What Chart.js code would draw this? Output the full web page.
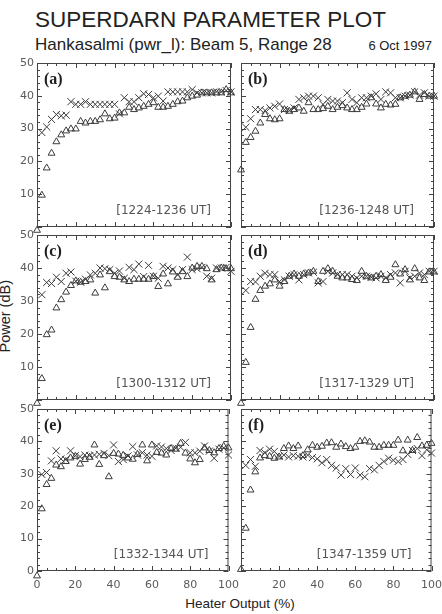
<!DOCTYPE html>
<html lang="en">
<head>
<meta charset="UTF-8" />
<title>SuperDARN Parameter Plot</title>
<script src="https://cdn.jsdelivr.net/npm/chart.js"></script>
<style>
  body {
    margin: 0;
    background: #fff;
    width: 442px;
    height: 614px;
    position: relative;
    overflow: hidden;
    font-family: 'Liberation Sans', Arial, sans-serif;
    color: #222;
  }
  .txt { position: absolute; white-space: nowrap; line-height: 1; }
  .title { left: 35px; top: 9px; font-size: 22.5px; }
  .sub { left: 35px; top: 36px; font-size: 17px; }
  .date { right: 10px; top: 39px; font-size: 13px; }
  .ylab { left: -35px; top: 309px; width: 80px; text-align: center; font-size: 14.5px; transform: rotate(-90deg); }
  .xlab { left: 140px; top: 597px; width: 200px; text-align: center; font-size: 13.5px; }
  canvas { position: absolute; }
</style>
</head>
<body>
  <div class="txt title">SUPERDARN PARAMETER PLOT</div>
  <div class="txt sub">Hankasalmi (pwr_l): Beam 5, Range 28</div>
  <div class="txt date">6 Oct 1997</div>
  <div class="txt ylab">Power (dB)</div>
  <div class="txt xlab">Heater Output (%)</div>

<script>
// heater output steps (%)
const heater = [0, 2.5, 5, 7.5, 10, 12.5, 15, 17.5, 20, 22.5, 25, 27.5, 30, 32.5, 35, 37.5, 40, 42.5, 45, 47.5, 50,
  52.5, 55, 57.5, 60, 62.5, 65, 67.5, 70, 72.5, 75, 77.5, 80, 82.5, 85, 87.5, 90, 92.5, 95, 97.5, 100];

const xTicks = [0, 20, 40, 60, 80, 100];
const yTicks = [0, 10, 20, 30, 40, 50];

// power (dB), x-marker series and triangle series per interval
const crossesA = [null, 28.8, 30.5, 32.8, 34.3, 33.9, 34.1, 38.2, 37.4, 37.4, 38.2, 37.4, 37.4, 37.4, 37.4, 37.4, 37.4, 34.5, 39.4, 38.2, 38.2,
  39.4, 40.6, 40.4, 39.4, 39.9, 38.4, 41.2, 41.2, 41.2, 41.2, 41.2, 41.9, 40.9, 40.9, 40.9, 40.9, 41.2, 41.2, 41.6, 41.2];
const trianglesA = [-1, 9.7, 18.0, 22.5, 26.0, 28.1, 29.3, 29.9, 29.9, 32.2, 31.7, 32.2, 32.2, 32.7, 34.5, 33.0, 33.2, 34.8, 34.8, 36.5, 35.8,
  36.3, 36.8, 37.4, 37.9, 36.5, 36.5, 36.8, 37.4, 38.2, 38.4, 39.4, 39.9, 40.2, 40.9, 40.9, 40.9, 40.9, 40.9, 41.9, 40.9];

const crossesB = [null, 30.4, 33.0, 35.8, 35.8, 35.5, 36.3, 36.8, 37.5, 35.8, 35.5, 36.3, 38.9, 39.4, 39.9, 39.9, 39.4, 37.4, 38.9, 38.4, 38.4,
  37.9, 40.9, 38.9, 37.9, 39.4, 39.4, 39.9, 40.6, 38.9, 41.2, 40.9, 39.4, 39.4, 39.9, 40.2, 41.2, 40.2, 40.9, 39.9, 39.9];
const trianglesB = [17.4, 25.8, 27.3, 29.2, 31.7, 34.3, 33.0, 32.7, 33.0, 35.8, 35.3, 35.8, 36.3, 35.3, 37.9, 35.8, 35.8, 36.1, 36.8, 35.8, 36.5,
  37.0, 36.3, 35.8, 35.8, 36.5, 37.5, 39.4, 37.5, 36.3, 37.4, 37.2, 37.4, 39.4, 39.9, 40.2, 41.2, 38.9, 40.4, 39.9, 39.9];

const crossesC = [null, 31.9, 35.6, 35.3, 37.2, 35.9, 38.4, 38.8, 36.0, 35.7, 36.6, 37.9, 38.4, 40.0, 39.8, 39.5, 38.4, 39.1, 36.9, 40.2, 39.5,
  41.2, 37.4, 40.8, 37.5, 36.9, 40.5, 40.0, 39.5, 37.9, 39.5, 43.3, 39.5, 39.8, 40.2, 37.5, 36.9, 40.0, 40.0, 40.2, 39.0];
const trianglesC = [-1, 6.5, 19.8, 21.2, 27.9, 30.4, 32.7, 34.7, 36.1, 35.7, 35.9, 36.4, 32.4, 37.9, 34.0, 38.9, 37.4, 37.2, 36.4, 35.9, 36.6,
  36.6, 36.6, 36.6, 37.4, 34.4, 38.2, 35.2, 38.8, 37.2, 38.9, 37.4, 40.0, 40.5, 40.5, 39.8, 36.4, 39.5, 40.0, 39.8, 39.8];

const crossesD = [null, 33.2, 35.9, 35.8, 37.5, 38.4, 38.0, 38.0, 35.9, 36.4, 37.5, 38.0, 36.4, 38.0, 38.5, 38.7, 35.5, 35.9, 39.0, 38.5, 38.0,
  38.0, 38.0, 37.5, 37.0, 37.5, 37.5, 37.2, 37.0, 37.5, 37.0, 38.0, 38.5, 35.5, 39.0, 37.0, 37.5, 38.5, 38.0, 39.0, 39.0];
const trianglesD = [-1, 11.4, 22.0, 30.5, 33.2, 34.5, 35.2, 36.4, 34.5, 35.9, 37.5, 38.2, 37.5, 38.2, 38.5, 39.0, 35.9, 39.0, 39.8, 39.0, 37.5,
  37.0, 37.0, 36.5, 36.2, 39.0, 37.5, 37.0, 37.5, 38.0, 36.2, 37.2, 41.0, 38.2, 39.5, 36.4, 39.8, 37.0, 36.2, 38.8, 38.8];

const crossesE = [null, 29.8, 30.4, 34.0, 37.1, 34.6, 34.4, 37.1, 35.6, 35.3, 35.8, 35.6, 35.8, 36.0, 36.3, 35.6, 38.9, 33.8, 34.4, 35.5, 38.4,
  35.8, 36.5, 35.8, 35.4, 38.6, 38.3, 37.8, 37.2, 37.9, 38.2, 39.7, 36.5, 36.5, 37.0, 38.6, 37.0, 34.8, 37.6, 38.0, 35.8];
const trianglesE = [-1.5, 19.2, 26.7, 28.6, 32.7, 32.2, 33.8, 34.9, 35.4, 33.0, 34.4, 35.1, 38.9, 32.9, 35.6, 29.1, 36.3, 36.1, 35.7, 34.9, 34.5,
  36.0, 38.9, 34.0, 38.9, 36.6, 36.4, 35.8, 37.8, 37.6, 39.4, 36.4, 34.6, 33.4, 34.4, 38.0, 37.2, 36.5, 37.8, 38.5, 38.0];

const crossesF = [null, 32.6, 34.4, 32.3, 37.2, 36.5, 37.6, 36.9, 35.4, 35.8, 35.2, 35.6, 35.4, 35.2, 35.8, 35.0, 34.6, 33.4, 34.4, 32.6, 31.8,
  29.6, 31.6, 29.8, 31.8, 29.6, 29.1, 31.6, 31.2, 32.6, 33.8, 34.8, 34.2, 33.8, 34.4, 36.0, 37.2, 37.8, 35.6, 37.4, 36.4];
const trianglesF = [0.5, 13.2, 25.0, 30.6, 34.9, 35.6, 35.4, 34.8, 35.2, 37.8, 38.6, 37.8, 38.6, 35.6, 37.4, 38.8, 38.2, 38.5, 39.5, 39.6, 38.2,
  39.2, 38.4, 37.8, 38.2, 40.0, 40.2, 39.8, 38.2, 38.2, 38.8, 38.8, 38.8, 40.4, 37.1, 40.4, 37.2, 41.2, 38.6, 38.8, 39.4];

const panels = [
  { label: '(a)', time: '[1224-1236 UT]', crosses: crossesA, triangles: trianglesA, col: 0, row: 0 },
  { label: '(b)', time: '[1236-1248 UT]', crosses: crossesB, triangles: trianglesB, col: 1, row: 0 },
  { label: '(c)', time: '[1300-1312 UT]', crosses: crossesC, triangles: trianglesC, col: 0, row: 1 },
  { label: '(d)', time: '[1317-1329 UT]', crosses: crossesD, triangles: trianglesD, col: 1, row: 1 },
  { label: '(e)', time: '[1332-1344 UT]', crosses: crossesE, triangles: trianglesE, col: 0, row: 2 },
  { label: '(f)', time: '[1347-1359 UT]', crosses: crossesF, triangles: trianglesF, col: 1, row: 2 }
];

// plot box edges on the page
const cols = [{ l: 37, r: 231 }, { l: 241, r: 434 }];
const rows = [{ t: 63, b: 227 }, { t: 235, b: 400 }, { t: 409, b: 571 }];
const PAD_L = 40, PAD_T = 10, PAD_R = 16, PAD_B = 30;

const ink = '#3c3c3c';

// IDL-style box with inward ticks, panel letter and time range
const framePlugin = {
  id: 'frame',
  afterDraw(chart, args, opts) {
    const { ctx, chartArea: a, scales: { x, y } } = chart;
    ctx.save();
    ctx.strokeStyle = '#444';
    ctx.lineWidth = 1;
    ctx.strokeRect(a.left + 0.5, a.top + 0.5, a.right - a.left - 1, a.bottom - a.top - 1);
    ctx.beginPath();
    for (let v = 0; v <= 100; v += 5) {
      const px = Math.round(x.getPixelForValue(v)) + 0.5;
      const len = v % 20 === 0 ? 5 : 3;
      ctx.moveTo(px, a.bottom); ctx.lineTo(px, a.bottom - len);
      ctx.moveTo(px, a.top); ctx.lineTo(px, a.top + len);
    }
    for (let v = 0; v <= 50; v += 2) {
      const py = Math.round(y.getPixelForValue(v)) + 0.5;
      const len = v % 10 === 0 ? 5 : 3;
      ctx.moveTo(a.left, py); ctx.lineTo(a.left + len, py);
      ctx.moveTo(a.right, py); ctx.lineTo(a.right - len, py);
    }
    ctx.stroke();

    ctx.fillStyle = '#1e1e1e';
    ctx.font = 'bold 16px "Liberation Serif", "DejaVu Serif", serif';
    ctx.textAlign = 'left';
    ctx.textBaseline = 'alphabetic';
    ctx.fillText(opts.label, a.left + 7, a.top + 21);

    ctx.fillStyle = '#555';
    ctx.font = '12px "DejaVu Sans", sans-serif';
    ctx.textAlign = 'right';
    ctx.fillText(opts.time, a.right - 20, a.bottom - 13);
    ctx.restore();
  }
};

panels.forEach(p => {
  const c = cols[p.col], r = rows[p.row];
  const canvas = document.createElement('canvas');
  canvas.width = (c.r - c.l) + PAD_L + PAD_R;
  canvas.height = (r.b - r.t) + PAD_T + PAD_B;
  canvas.style.left = (c.l - PAD_L) + 'px';
  canvas.style.top = (r.t - PAD_T) + 'px';
  document.body.appendChild(canvas);

  const showY = p.col === 0;
  const showX = p.row === 2;

  new Chart(canvas, {
    type: 'scatter',
    data: {
      datasets: [
        {
          data: heater.map((h, i) => ({ x: h, y: p.triangles[i] })),
          pointStyle: 'triangle',
          pointRadius: 4,
          pointBorderWidth: 1,
          borderColor: ink,
          backgroundColor: 'rgba(0,0,0,0)',
          clip: false
        },
        {
          data: heater.map((h, i) => ({ x: h, y: p.crosses[i] })),
          pointStyle: 'crossRot',
          pointRadius: 5,
          pointBorderWidth: 1,
          borderColor: ink,
          backgroundColor: ink,
          clip: false
        }
      ]
    },
    options: {
      responsive: false,
      animation: false,
      events: [],
      layout: { autoPadding: false, padding: { left: 0, top: PAD_T, right: PAD_R, bottom: 0 } },
      plugins: {
        legend: { display: false },
        tooltip: { enabled: false },
        frame: { label: p.label, time: p.time }
      },
      scales: {
        x: {
          type: 'linear', min: 0, max: 100,
          grid: { display: false, drawTicks: false },
          border: { display: false },
          afterBuildTicks: s => { s.ticks = xTicks.map(v => ({ value: v })); },
          afterFit: s => { s.height = PAD_B; },
          ticks: {
            display: showX,
            padding: 8,
            color: '#5a5a5a',
            font: { family: 'DejaVu Sans', size: 11 },
            callback: v => (p.col === 1 && v === 0) ? '' : v
          }
        },
        y: {
          type: 'linear', min: 0, max: 50,
          grid: { display: false, drawTicks: false },
          border: { display: false },
          afterBuildTicks: s => { s.ticks = yTicks.map(v => ({ value: v })); },
          afterFit: s => { s.width = PAD_L; },
          ticks: {
            display: showY,
            padding: 3,
            color: '#5a5a5a',
            font: { family: 'DejaVu Sans', size: 11 },
            callback: v => (p.row < 2 && v === 0) ? '' : v
          }
        }
      }
    },
    plugins: [framePlugin]
  });
});
</script>
</body>
</html>
